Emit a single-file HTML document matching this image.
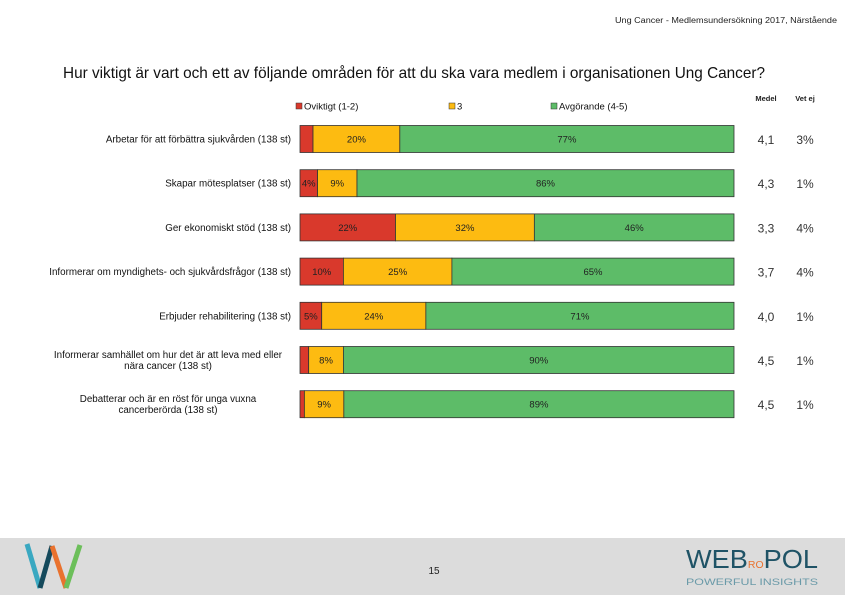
<!DOCTYPE html>
<html><head><meta charset="utf-8"><style>
html,body{margin:0;padding:0;background:#fff;}
svg{display:block;font-family:"Liberation Sans",Arial,sans-serif;}
</style></head><body>
<svg id="chart" width="845" height="595" viewBox="0 0 845 595" xmlns="http://www.w3.org/2000/svg">
<text x="837" y="23" font-size="8" text-anchor="end" fill="#222" textLength="222" lengthAdjust="spacingAndGlyphs">Ung Cancer - Medlemsundersökning 2017, Närstående</text>
<text x="63" y="78" font-size="16" fill="#111" textLength="702" lengthAdjust="spacingAndGlyphs">Hur viktigt är vart och ett av följande områden för att du ska vara medlem i organisationen Ung Cancer?</text>
<g font-size="9.5" fill="#111">
<rect x="296" y="103" width="6" height="6" fill="#d9392c" stroke="#333" stroke-width="0.5"/><text x="304" y="109.5">Oviktigt (1-2)</text>
<rect x="449" y="103" width="6" height="6" fill="#fdbb11" stroke="#333" stroke-width="0.5"/><text x="457" y="109.5">3</text>
<rect x="551" y="103" width="6" height="6" fill="#5dbc68" stroke="#333" stroke-width="0.5"/><text x="559" y="109.5">Avgörande (4-5)</text>
</g>
<text x="766" y="101" font-size="7.5" font-weight="bold" text-anchor="middle" fill="#222">Medel</text>
<text x="805" y="101" font-size="7.5" font-weight="bold" text-anchor="middle" fill="#222">Vet ej</text>
<g id="bars"></g>
<rect x="0" y="538" width="845" height="57" fill="#dcdcdc"/>
<g stroke-width="5" fill="none">
<line x1="27" y1="544" x2="40" y2="588" stroke="#3aa8c1"/>
<line x1="40" y1="588" x2="52" y2="546" stroke="#154a5c"/>
<line x1="52" y1="546" x2="66" y2="588" stroke="#e9722e"/>
<line x1="66" y1="588" x2="80" y2="545" stroke="#6cbf5a"/>
</g>
<text x="434" y="574" font-size="10" text-anchor="middle" fill="#222">15</text>
<text x="686" y="568" font-size="26" fill="#1f5366" textLength="132" lengthAdjust="spacingAndGlyphs">WEB<tspan fill="#e9722e" font-size="10">RO</tspan>POL</text>
<text x="686" y="585" font-size="9" fill="#6a9aa8" textLength="132" lengthAdjust="spacingAndGlyphs">POWERFUL INSIGHTS</text>
</svg>
<script>
const categories = [
 ["Arbetar för att förbättra sjukvården (138 st)"],
 ["Skapar mötesplatser (138 st)"],
 ["Ger ekonomiskt stöd (138 st)"],
 ["Informerar om myndighets- och sjukvårdsfrågor (138 st)"],
 ["Erbjuder rehabilitering (138 st)"],
 ["Informerar samhället om hur det är att leva med eller","nära cancer (138 st)"],
 ["Debatterar och är en röst för unga vuxna","cancerberörda (138 st)"]
];
const oviktigt = [3,4,22,10,5,2,1];
const neutral = [20,9,32,25,24,8,9];
const avgorande = [77,86,46,65,71,90,89];
const medel = ["4,1","4,3","3,3","3,7","4,0","4,5","4,5"];
const vetEj = ["3%","1%","4%","4%","1%","1%","1%"];
const showLabel = [false,true,true,true,true,false,false];

const NS="http://www.w3.org/2000/svg";
const g=document.getElementById('bars');
const x0=300, W=434, top0=139, step=44.2, bh=27;
function xScale(v,total){return v/total*W;}
function yScale(i){return top0+i*step;}
function mk(tag,attrs){const e=document.createElementNS(NS,tag);for(const k in attrs)e.setAttribute(k,attrs[k]);return e;}
const colors=["#d9392c","#fdbb11","#5dbc68"];
const segNames=["oviktigt","neutral","avgorande"];
for(let i=0;i<categories.length;i++){
  const vals=[oviktigt[i],neutral[i],avgorande[i]];
  const total=vals[0]+vals[1]+vals[2];
  const cy=yScale(i);
  let x=x0;
  for(let s=0;s<3;s++){
    const w=xScale(vals[s],total);
    const r=mk('rect',{x:x,y:cy-bh/2,width:w,height:bh,fill:colors[s],stroke:"#333","stroke-width":0.8});
    
    
    g.appendChild(r);
    if(s>0||showLabel[i]){
      const t=mk('text',{x:x+w/2,y:cy+3.5,"font-size":9.5,"text-anchor":"middle",fill:"#222"});
      t.textContent=vals[s]+"%";
      
      
      g.appendChild(t);
    }
    x+=w;
  }
  const lines=categories[i];
  const lab=mk('text',{"font-size":9.8,fill:"#111","text-anchor":"end"});
  
  
  if(lines.length===1){
    const ts=mk('tspan',{x:291,y:cy+3.5});ts.textContent=lines[0];lab.appendChild(ts);
  } else {
    lab.setAttribute('text-anchor','middle');
    const ts1=mk('tspan',{x:168,y:cy-2});ts1.textContent=lines[0];lab.appendChild(ts1);
    const ts2=mk('tspan',{x:168,y:cy+9});ts2.textContent=lines[1];lab.appendChild(ts2);
  }
  g.appendChild(lab);
  const m=mk('text',{x:766,y:cy+5,"font-size":12,"text-anchor":"middle",fill:"#333"});
  m.textContent=medel[i];
  
  
  g.appendChild(m);
  const v=mk('text',{x:805,y:cy+5,"font-size":12,"text-anchor":"middle",fill:"#333"});
  v.textContent=vetEj[i];
  
  
  g.appendChild(v);
}
</script>
</body></html>
